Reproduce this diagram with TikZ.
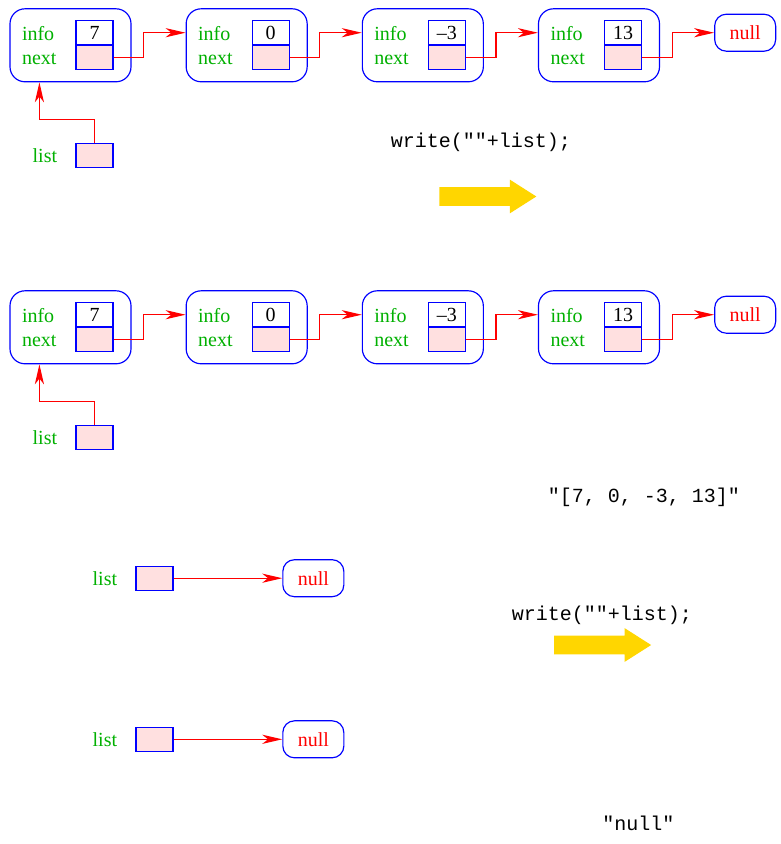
\documentclass[tikz,border=0pt]{standalone}
\usepackage{fontspec}
\setmainfont{Liberation Serif}
\setmonofont{Liberation Mono}
\usepackage{tikz}
\usetikzlibrary{arrows.meta,positioning,calc,shapes.arrows}
\definecolor{fieldgreen}{RGB}{0,176,0}
\definecolor{cellpink}{RGB}{255,224,224}
\definecolor{gogold}{RGB}{255,214,0}
\tikzset{
  elem/.style={draw=blue, line width=0.7pt, rounded corners=9pt,
    minimum width=72.6pt, minimum height=43.8pt, text width=58.2pt,
    inner xsep=7.2pt, inner ysep=0pt, align=left, text=fieldgreen},
  infocell/.style={draw=blue, line width=0.7pt, fill=white,
    minimum width=22.2pt, minimum height=14.4pt, inner sep=0pt},
  nextcell/.style={infocell, fill=cellpink},
  nullbox/.style={draw=blue, line width=0.7pt, rounded corners=7pt,
    minimum width=36.6pt, minimum height=22.2pt, inner sep=0pt, text=red},
  lbl/.style={text=fieldgreen, inner sep=0pt},
  code/.style={font=\fontsize{12}{14.4}\selectfont\ttfamily, inner sep=0pt},
  ptr/.style={-{Stealth[length=12pt, width=5.5pt, inset=3.5pt]}, red, line width=0.7pt},
  goarrow/.style={single arrow, fill=gogold, draw=none, inner xsep=0pt,
    inner ysep=5.4pt, minimum height=58.2pt, minimum width=19.8pt,
    single arrow head extend=4.5pt, single arrow tip angle=65}
}

\begin{document}
\begin{tikzpicture}[x=0.6pt, y=-0.6pt, node distance=32.4pt,
    font=\fontsize{12}{14.4}\selectfont]
  \useasboundingbox (0,0) rectangle (780,844);

  % list before the call
  \node[elem] (a1) at (70.5,45.3) {info\\next};
  \node[elem, right=of a1] (a2) {info\\next};
  \node[elem, right=of a2] (a3) {info\\next};
  \node[elem, right=of a3] (a4) {info\\next};
  \node[infocell, anchor=south east] (a1i) at ([xshift=-10.8pt]a1.east) {7};
  \node[nextcell, anchor=north east] (a1n) at ([xshift=-10.8pt]a1.east) {};
  \node[infocell, anchor=south east] (a2i) at ([xshift=-10.8pt]a2.east) {0};
  \node[nextcell, anchor=north east] (a2n) at ([xshift=-10.8pt]a2.east) {};
  \node[infocell, anchor=south east] (a3i) at ([xshift=-10.8pt]a3.east) {--3};
  \node[nextcell, anchor=north east] (a3n) at ([xshift=-10.8pt]a3.east) {};
  \node[infocell, anchor=south east] (a4i) at ([xshift=-10.8pt]a4.east) {13};
  \node[nextcell, anchor=north east] (a4n) at ([xshift=-10.8pt]a4.east) {};
  \node[nullbox, right=43.2pt of a4i] (anull) {null};
  \node[nextcell, below=43.6pt of a1n] (alist) {};
  \node[lbl, left=10.8pt of alist] (alistl) {list};

  \draw[ptr] (a1n.east) -- ++(30,0) |- (a2.west |- a2i);
  \draw[ptr] (a2n.east) -- ++(30,0) |- (a3.west |- a3i);
  \draw[ptr] (a3n.east) -- ++(30,0) |- (a4.west |- a4i);
  \draw[ptr] (a4n.east) -- ++(30,0) |- (anull.west);
  \draw[ptr] (alist.north) -- ++(0,-24) -| ($(a1.south west)+(30,0)$);

  \node[code] (call1) at (481,142) {write(""+list);};
  \node[goarrow] (go1) at (480.5,196.5) {};

  % list after the call
  \node[elem] (b1) at (70.5,327.3) {info\\next};
  \node[elem, right=of b1] (b2) {info\\next};
  \node[elem, right=of b2] (b3) {info\\next};
  \node[elem, right=of b3] (b4) {info\\next};
  \node[infocell, anchor=south east] (b1i) at ([xshift=-10.8pt]b1.east) {7};
  \node[nextcell, anchor=north east] (b1n) at ([xshift=-10.8pt]b1.east) {};
  \node[infocell, anchor=south east] (b2i) at ([xshift=-10.8pt]b2.east) {0};
  \node[nextcell, anchor=north east] (b2n) at ([xshift=-10.8pt]b2.east) {};
  \node[infocell, anchor=south east] (b3i) at ([xshift=-10.8pt]b3.east) {--3};
  \node[nextcell, anchor=north east] (b3n) at ([xshift=-10.8pt]b3.east) {};
  \node[infocell, anchor=south east] (b4i) at ([xshift=-10.8pt]b4.east) {13};
  \node[nextcell, anchor=north east] (b4n) at ([xshift=-10.8pt]b4.east) {};
  \node[nullbox, right=43.2pt of b4i] (bnull) {null};
  \node[nextcell, below=43.6pt of b1n] (blist) {};
  \node[lbl, left=10.8pt of blist] (blistl) {list};

  \draw[ptr] (b1n.east) -- ++(30,0) |- (b2.west |- b2i);
  \draw[ptr] (b2n.east) -- ++(30,0) |- (b3.west |- b3i);
  \draw[ptr] (b3n.east) -- ++(30,0) |- (b4.west |- b4i);
  \draw[ptr] (b4n.east) -- ++(30,0) |- (bnull.west);
  \draw[ptr] (blist.north) -- ++(0,-24) -| ($(b1.south west)+(30,0)$);

  \node[code] (out1) at (644,497) {"[7, 0, -3, 13]"};

  % empty list
  \node[nextcell] (clist) at (154.5,578.2) {};
  \node[lbl, left=10.8pt of clist] (clistl) {list};
  \node[nullbox, right=65.2pt of clist] (cnull) {null};
  \draw[ptr] (clist.east) -- (cnull.west);

  \node[code] (call2) at (602,615.7) {write(""+list);};
  \node[goarrow] (go2) at (595.3,645) {};

  \node[nextcell] (dlist) at (154.5,739.3) {};
  \node[lbl, left=10.8pt of dlist] (dlistl) {list};
  \node[nullbox, right=65.2pt of dlist] (dnull) {null};
  \draw[ptr] (dlist.east) -- (dnull.west);

  \node[code] (out2) at (638.3,823.3) {"null"};
\end{tikzpicture}
\end{document}
